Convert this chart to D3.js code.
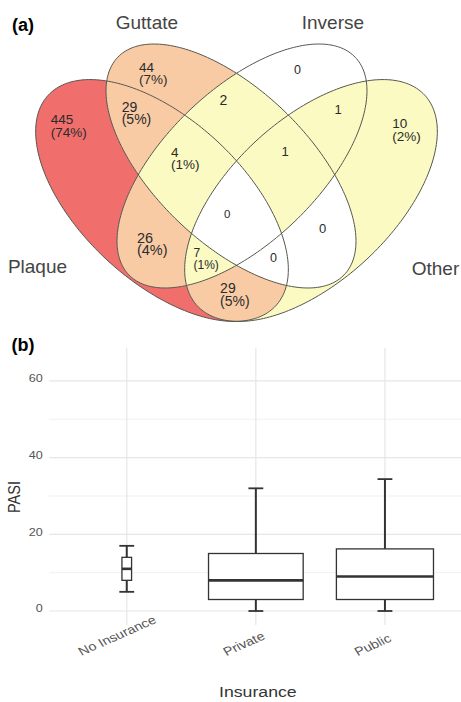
<!DOCTYPE html>
<html><head><meta charset="utf-8">
<script src="https://cdn.jsdelivr.net/npm/d3@7"></script>
<style>
html,body{margin:0;padding:0;background:#fff;}
svg{display:block;}
text{font-family:"Liberation Sans",Arial,Helvetica,sans-serif;}
</style></head><body>
<svg id="chart" width="461" height="702"></svg>
<script>
// ---------- Panel (a): Venn data ----------
const setNames = ["Plaque", "Guttate", "Inverse", "Other"];
// membership flags in the order Plaque, Guttate, Inverse, Other
const regionSets = ["1000","0100","0010","0001","1100","0110","0011","1110","0111","1111","1010","0101","1011","1101","1001"];
const regionCounts = [445, 44, 0, 10, 29, 2, 1, 4, 1, 0, 26, 0, 7, 0, 29];
const regionPercents = ["74%","7%","","2%","5%","","","1%","","","4%","","1%","","5%"];

// ---------- Panel (b): boxplot data ----------
const insuranceCategories = ["No Insurance", "Private", "Public"];
const pasiLowerWhisker = [5, 0, 0];
const pasiQ1 = [8, 3, 3];
const pasiMedian = [11, 8, 9];
const pasiQ3 = [14, 15, 16.2];
const pasiUpperWhisker = [17, 32, 34.4];
const groupSizes = [3, 290, 305];
const pasiTicks = [0, 20, 40, 60];
const pasiMinorTicks = [10, 30, 50];

// ---------- layout (geometry in venn units) ----------
const vennEllipses = [
  {cx: 0.31375, cy: 0.42375, a: 0.3875, b: 0.2025, rot: -42.8},
  {cx: 0.48625, cy: 0.51, a: 0.3925, b: 0.19125, rot: -43.87},
  {cx: 0.51375, cy: 0.51, a: 0.3925, b: 0.19125, rot: 43.87},
  {cx: 0.68625, cy: 0.42375, a: 0.3875, b: 0.2025, rot: 42.8}
];
const vennLabelPos = [
  [0.0355, 0.615, 13.5], [0.256, 0.746, 13.5], [0.644, 0.74, 12.5], [0.8895, 0.604, 13.5],
  [0.213, 0.646, 14], [0.4575, 0.6625, 14], [0.745, 0.641, 13], [0.336, 0.533, 13.5],
  [0.6125, 0.536, 13], [0.469, 0.381, 11.5], [0.251, 0.318, 14.5], [0.706, 0.3425, 13],
  [0.3925, 0.283, 12], [0.584, 0.271, 12.5], [0.459, 0.192, 14]
];
const setLabelPos = [[0.0025, 0.243], [0.276, 0.8525], [0.741, 0.8525], [0.9975, 0.2375]];

const svg = d3.select("#chart");
svg.append("rect").attr("width", 461).attr("height", 702).attr("fill", "#fff");
const defs = svg.append("defs");

const xV = d3.scaleLinear().domain([0, 1]).range([36.5, 436.5]);
const yV = d3.scaleLinear().domain([0, 1]).range([370, -30]);
const fillScale = d3.scaleThreshold().domain([1, 20, 100])
  .range(["#ffffff", "#fafac2", "#f8cba5", "#f06f6d"]);

function ellipsePath(e) {
  const phi = e.rot * Math.PI / 180;
  const pts = d3.range(0, 360, 1.5).map(t => {
    const r = t * Math.PI / 180;
    const u = e.cx + e.a * Math.cos(r) * Math.cos(phi) - e.b * Math.sin(r) * Math.sin(phi);
    const v = e.cy + e.a * Math.cos(r) * Math.sin(phi) + e.b * Math.sin(r) * Math.cos(phi);
    return [xV(u), yV(v)];
  });
  return d3.line().curve(d3.curveLinearClosed)(pts);
}
const ePaths = vennEllipses.map(ellipsePath);
ePaths.forEach((d, i) => defs.append("clipPath").attr("id", "ce" + i).append("path").attr("d", d));

const regionLayer = svg.append("g");
regionSets.forEach((key, r) => {
  const inc = [], exc = [];
  key.split("").forEach((c, i) => (c === "1" ? inc : exc).push(i));
  const mask = defs.append("mask").attr("id", "m" + r)
    .attr("maskUnits", "userSpaceOnUse").attr("x", 0).attr("y", 0).attr("width", 461).attr("height", 702);
  mask.append("rect").attr("width", 461).attr("height", 702).attr("fill", "#fff");
  exc.forEach(i => mask.append("path").attr("d", ePaths[i]).attr("fill", "#000"));
  let g = regionLayer.append("g");
  inc.slice(1).forEach(i => { g = g.append("g").attr("clip-path", `url(#ce${i})`); });
  g.append("path").attr("d", ePaths[inc[0]]).attr("fill", fillScale(regionCounts[r]))
    .attr("mask", `url(#m${r})`);
});

svg.append("g").selectAll("path").data(ePaths).join("path")
  .attr("d", d => d).attr("fill", "none").attr("stroke", "#56564e").attr("stroke-width", 1);

// region labels
regionCounts.forEach((c, r) => {
  const [u, v, fs] = vennLabelPos[r];
  const t = svg.append("text").attr("x", xV(u)).attr("y", yV(v))
    .attr("font-size", fs).attr("fill", "#2b2b2b");
  t.append("tspan").attr("x", xV(u)).text(c);
  if (regionPercents[r]) t.append("tspan").attr("x", xV(u)).attr("dy", 12.5).text("(" + regionPercents[r] + ")");
});

// set names
setNames.forEach((s, i) => {
  svg.append("text").attr("x", xV(setLabelPos[i][0])).attr("y", yV(setLabelPos[i][1]))
    .attr("text-anchor", "middle").attr("font-size", 19).attr("fill", "#444").text(s);
});

// panel letters
svg.append("text").attr("x", 12).attr("y", 31).attr("font-size", 18).attr("font-weight", "bold").attr("fill", "#000").text("(a)");
svg.append("text").attr("x", 11.5).attr("y", 351).attr("font-size", 18).attr("font-weight", "bold").attr("fill", "#000").text("(b)");

// ---------- Panel (b) ----------
const yB = d3.scaleLinear().domain([-3.65, 68.6]).range([625, 348]);
const xB = d3.scalePoint().domain(insuranceCategories).range([49.3, 462.4]).padding(0.6);
const step = xB.step();
const grid = svg.append("g");
grid.selectAll("line.minor").data(pasiMinorTicks).join("line").attr("class", "minor")
  .attr("x1", 49.3).attr("x2", 462.4).attr("y1", d => yB(d)).attr("y2", d => yB(d))
  .attr("stroke", "#eeeeee").attr("stroke-width", 0.8);
grid.selectAll("line.major").data(pasiTicks).join("line").attr("class", "major")
  .attr("x1", 49.3).attr("x2", 462.4).attr("y1", d => yB(d)).attr("y2", d => yB(d))
  .attr("stroke", "#e6e6e6").attr("stroke-width", 1.2);
grid.selectAll("line.vx").data(insuranceCategories).join("line").attr("class", "vx")
  .attr("x1", d => xB(d)).attr("x2", d => xB(d)).attr("y1", yB.range()[1]).attr("y2", yB.range()[0])
  .attr("stroke", "#e6e6e6").attr("stroke-width", 1.2);

// y tick labels
const yAxis = svg.append("g").attr("transform", "translate(49.3,0)")
  .call(d3.axisLeft(yB).tickValues(pasiTicks).tickSize(0).tickPadding(5.5));
yAxis.select(".domain").remove();
yAxis.selectAll("text").attr("font-size", 10.5).attr("fill", "#555").attr("dy", "0.07em")
  .attr("font-family", "Liberation Sans, Arial, sans-serif").attr("transform", "scale(1.2,1)");

// boxes
const maxN = d3.max(groupSizes);
const maxW = 0.752 * step;
const capW = 0.115 * step;
const boxes = svg.append("g");
insuranceCategories.forEach((c, i) => {
  const x = xB(c);
  const w = maxW * Math.sqrt(groupSizes[i] / maxN);
  const col = "#333";
  boxes.append("line").attr("x1", x).attr("x2", x).attr("y1", yB(pasiUpperWhisker[i])).attr("y2", yB(pasiQ3[i]))
    .attr("stroke", col).attr("stroke-width", 2);
  boxes.append("line").attr("x1", x).attr("x2", x).attr("y1", yB(pasiQ1[i])).attr("y2", yB(pasiLowerWhisker[i]))
    .attr("stroke", col).attr("stroke-width", 2);
  [pasiUpperWhisker[i], pasiLowerWhisker[i]].forEach(v => {
    boxes.append("line").attr("x1", x - capW / 2).attr("x2", x + capW / 2).attr("y1", yB(v)).attr("y2", yB(v))
      .attr("stroke", col).attr("stroke-width", 1.8);
  });
  boxes.append("rect").attr("x", x - w / 2).attr("width", w)
    .attr("y", yB(pasiQ3[i])).attr("height", yB(pasiQ1[i]) - yB(pasiQ3[i]))
    .attr("fill", "#fff").attr("stroke", col).attr("stroke-width", 1.3);
  boxes.append("line").attr("x1", x - w / 2).attr("x2", x + w / 2).attr("y1", yB(pasiMedian[i])).attr("y2", yB(pasiMedian[i]))
    .attr("stroke", col).attr("stroke-width", 2.6);
});

// x tick labels
insuranceCategories.forEach(c => {
  const t = svg.append("text").attr("font-size", 12).attr("fill", "#555")
    .attr("text-anchor", "middle").attr("dominant-baseline", "central").text(c);
  const L = t.node().getComputedTextLength();
  t.attr("transform", `translate(${xB(c) - 14.5 + 0.068 * L},${653 - 0.244 * L}) scale(1.2,1) rotate(-28)`);
});

// axis titles
svg.append("text").attr("text-anchor", "middle").attr("font-size", 15).attr("fill", "#333")
  .attr("transform", `translate(${(xB.range()[0] + xB.range()[1]) / 2 + 2},697) scale(1.18,1)`).text("Insurance");
svg.append("text").attr("text-anchor", "middle").attr("dominant-baseline", "central").attr("font-size", 14.5).attr("fill", "#333")
  .attr("transform", `translate(14.5,497) scale(1.15,1) rotate(-90)`).text("PASI");
</script>
</body></html>
